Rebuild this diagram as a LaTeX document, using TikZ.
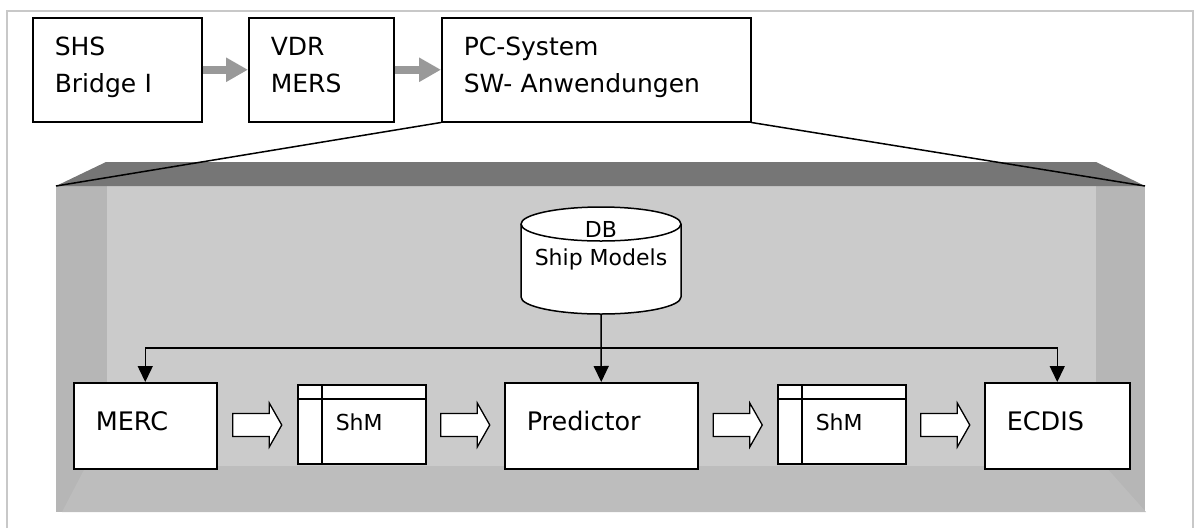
\documentclass[tikz,border=0pt]{standalone}
\usepackage{fontspec}
\setmainfont{DejaVu Sans}
\usetikzlibrary{arrows.meta,calc}
\definecolor{framegray}{HTML}{C8C8C8}
\definecolor{bandgray}{HTML}{767676}
\definecolor{sidegray}{HTML}{B6B6B6}
\definecolor{backgray}{HTML}{CBCBCB}
\definecolor{floorgray}{HTML}{BDBDBD}
\definecolor{arrowgray}{HTML}{999999}
\begin{document}
\begin{tikzpicture}[x=1pt,y=1pt,
  box/.style={draw=black, line width=1.5pt, fill=white, inner xsep=22pt, inner ysep=0pt, align=left, anchor=north west},
  topbox/.style={box, font=\fontsize{25}{37}\selectfont, text height=19pt, text depth=47pt, minimum height=104pt},
  lowbox/.style={box, font=\fontsize{25.5}{32}\selectfont, text height=20pt, text depth=10pt, minimum height=86pt},
  shmbox/.style={box, inner xsep=38pt, text width=52pt, font=\fontsize{22}{28}\selectfont, text height=17pt, text depth=4pt, minimum height=79pt},
  grayarrow/.style={draw=arrowgray, line width=8pt, -{Triangle[length=22pt,width=23pt]}},
  conn/.style={draw=black, line width=1.5pt, -{Triangle[length=16pt,width=15pt]}},
  blockarrow/.pic={\filldraw[fill=white,draw=black,line width=1.3pt] (-24.5,-11.5) -- (12,-11.5) -- (12,-22) -- (24.5,0) -- (12,22) -- (12,11.5) -- (-24.5,11.5) -- cycle;}
]
\useasboundingbox (0,0) rectangle (1196,-528);
% outer frame
\draw[framegray, line width=2pt] (7,-528) -- (7,-11) -- (1193,-11) -- (1193,-528);
% box interior
\fill[sidegray] (56,-186) rectangle (1145,-512);
\fill[backgray] (107,-186) rectangle (1096,-466);
\fill[floorgray] (62,-512) -- (86,-466) -- (1105,-466) -- (1146,-512) -- cycle;
\fill[bandgray] (56,-186) -- (106,-162) -- (1096,-162) -- (1145,-186) -- cycle;
\coordinate (bl) at (56,-186);
\coordinate (br) at (1145,-186);
% top boxes
\node[topbox, text width=125pt] (shs) at (32,-17) {SHS\\Bridge I};
\node[topbox, text width=101pt] (vdr) at (248,-17) {VDR\\MERS};
\node[topbox, text width=265pt] (pc) at (441,-17) {PC-System\\SW- Anwendungen};
\draw[grayarrow] (shs.east) -- (vdr.west);
\draw[grayarrow] (vdr.east) -- (pc.west);
\draw[line width=1.5pt] (pc.south west) -- (bl);
\draw[line width=1.5pt] (pc.south east) -- (br);
% database cylinder
\filldraw[fill=white, draw=black, line width=1.5pt] (521,-224) -- (521,-297) arc[start angle=180, end angle=360, x radius=80, y radius=17] -- (681,-224) arc[start angle=0, end angle=180, x radius=80, y radius=17] -- cycle;
\draw[line width=1.5pt] (521,-224) arc[start angle=180, end angle=360, x radius=80, y radius=17];
\node[minimum width=160pt, minimum height=107pt, inner sep=0pt, text height=42pt, text depth=33pt, align=center, font=\fontsize{22}{28}\selectfont] (db) at (601,-260.5) {DB\\Ship Models};
% lower boxes
\node[lowbox, text width=99pt] (merc) at (73,-382) {MERC};
\node[shmbox] (shm1) at (297,-384) {ShM};
\node[lowbox, text width=149pt] (pred) at (504,-382) {Predictor};
\node[shmbox] (shm2) at (777,-384) {ShM};
\node[lowbox, text width=101pt] (ecdis) at (984,-382) {ECDIS};
\foreach \s in {shm1,shm2}{
  \draw[line width=1.5pt] ([xshift=25pt]\s.north west) -- ([xshift=25pt]\s.south west);
  \draw[line width=1.5pt] ([yshift=-15pt]\s.north west) -- ([yshift=-15pt]\s.north east);
}
% connectors
\coordinate (bus) at (601,-348);
\draw[conn] (db.south) -- (pred.north);
\draw[conn] (bus) -| (merc.north);
\draw[conn] (bus) -| (ecdis.north);
\pic (ba1) at ($(merc.east)!0.5!(shm1.west)$) {blockarrow};
\pic (ba2) at ($(shm1.east)!0.5!(pred.west)$) {blockarrow};
\pic (ba3) at ($(pred.east)!0.5!(shm2.west)$) {blockarrow};
\pic (ba4) at ($(shm2.east)!0.5!(ecdis.west)$) {blockarrow};
\end{tikzpicture}
\end{document}
